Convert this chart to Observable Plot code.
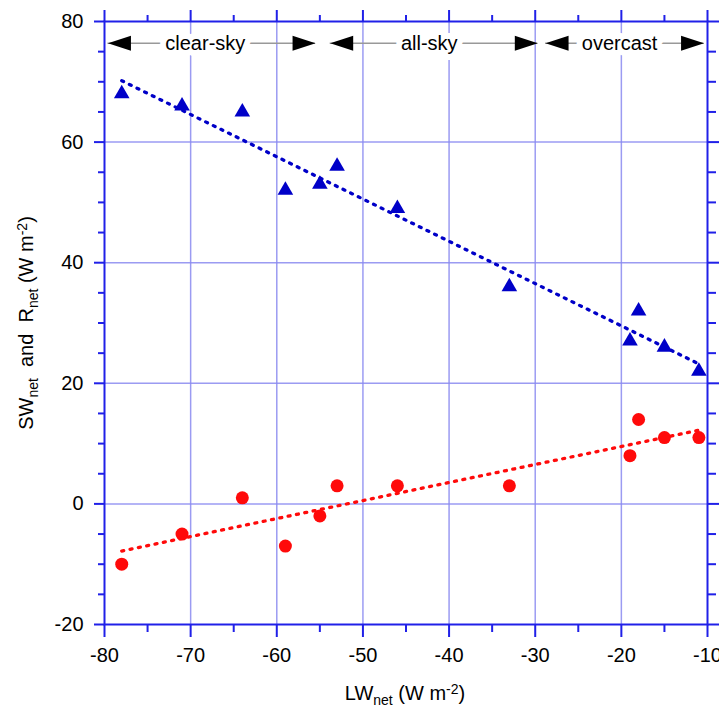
<!DOCTYPE html>
<html><head><meta charset="utf-8">
<script src="https://cdn.jsdelivr.net/npm/d3@7"></script>
<script src="https://cdn.jsdelivr.net/npm/@observablehq/plot@0.6"></script>
<style>
body{margin:0;background:#fff;}
svg{font-family:"Liberation Sans",Arial,Helvetica,sans-serif;}
</style>
</head><body><div id="chart"></div>
<script>
// ---- data ----
const lwNet = [-78, -71, -64, -59, -55, -53, -46, -33, -19, -18, -15, -11];
const swNet = [68, 66, 65, 52, 53, 56, 49, 36, 27, 32, 26, 22];
const rNet  = [-10, -5, 1, -7, -2, 3, 3, 3, 8, 14, 11, 11];

const regionLabels = ["clear-sky", "all-sky", "overcast"];
const regionStart  = [-79.6, -53.8, -28.8];
const regionEnd    = [-55.5, -29.7, -10.4];
const regionTextX  = [-68.3, -42.3, -20.2];
const regionY = 76.4;

const xMajor = [-80, -70, -60, -50, -40, -30, -20, -10];
const xMinor = [-75, -65, -55, -45, -35, -25, -15];
const yMajor = [-20, 0, 20, 40, 60, 80];
const yMinor = [-15, -10, -5, 5, 10, 15, 25, 30, 35, 45, 50, 55, 65, 70, 75];
const xGrid = [-70, -60, -50, -40, -30, -20];
const yGrid = [0, 20, 40, 60];

// ---- tables ----
const swData = lwNet.map((x, i) => ({x, y: swNet[i]}));
const rData  = lwNet.map((x, i) => ({x, y: rNet[i]}));
const regions = regionLabels.map((label, i) => ({label, x1: regionStart[i], x2: regionEnd[i], tx: regionTextX[i], y: regionY}));

const axisBlue = "#2020e8";
const gridBlue = "#8a8af0";
const triBlue = "#0000c8";
const dotRed = "#ff0a0a";

const headLeft = {draw(ctx) { ctx.moveTo(0, 0); ctx.lineTo(23, -7.5); ctx.lineTo(23, 7.5); ctx.closePath(); }};
const headRight = {draw(ctx) { ctx.moveTo(0, 0); ctx.lineTo(-23, -7.5); ctx.lineTo(-23, 7.5); ctx.closePath(); }};

const fmt = d => String(d);
const blank = () => "";

const chart = Plot.plot({
  width: 719, height: 707,
  marginLeft: 104, marginRight: 12, marginTop: 21, marginBottom: 83,
  x: {domain: [-80, -10], axis: null},
  y: {domain: [-20, 80], axis: null},
  style: {background: "white", fontFamily: '"Liberation Sans",Arial,Helvetica,sans-serif'},
  marks: [
    Plot.gridX({ticks: xGrid, stroke: gridBlue, strokeOpacity: 0.85, strokeWidth: 1.5}),
    Plot.gridY({ticks: yGrid, stroke: gridBlue, strokeOpacity: 0.85, strokeWidth: 1.5}),
    Plot.ruleY(regions, {x1: "x1", x2: "x2", y: "y", stroke: "#999", strokeWidth: 1.5}),
    Plot.text(regions, {x: "tx", y: "y", text: "label", fontSize: 20, fill: "black", stroke: "white", strokeWidth: 12}),
    Plot.dot(regions, {x: "x1", y: "y", symbol: headLeft, fill: "black", r: 5}),
    Plot.dot(regions, {x: "x2", y: "y", symbol: headRight, fill: "black", r: 5}),
    Plot.dot(swData, {x: "x", y: "y", symbol: "triangle", r: 5.8, fill: triBlue}),
    Plot.dot(rData, {x: "x", y: "y", r: 6.5, fill: dotRed}),
    Plot.linearRegressionY(swData, {x: "x", y: "y", stroke: triBlue, strokeWidth: 3.3, strokeDasharray: "2,6.5", strokeLinecap: "round", ci: 0}),
    Plot.linearRegressionY(rData, {x: "x", y: "y", stroke: dotRed, strokeWidth: 3.3, strokeDasharray: "2,6.5", strokeLinecap: "round", ci: 0}),
    Plot.frame({stroke: axisBlue, strokeWidth: 2}),
    Plot.axisX({anchor: "bottom", ticks: xMajor, tickSize: 13, tickPadding: 10, tickFormat: fmt, fontSize: 20, stroke: axisBlue, strokeWidth: 2, fill: "black", label: null}),
    Plot.axisX({anchor: "bottom", ticks: xMinor, tickSize: 8, tickFormat: blank, stroke: axisBlue, strokeWidth: 2, label: null}),
    Plot.axisX({anchor: "top", ticks: xMajor, tickSize: 12, tickFormat: blank, stroke: axisBlue, strokeWidth: 2, label: null}),
    Plot.axisX({anchor: "top", ticks: xMinor, tickSize: 7, tickFormat: blank, stroke: axisBlue, strokeWidth: 2, label: null}),
    Plot.axisY({anchor: "left", ticks: yMajor, tickSize: 10, tickPadding: 11, tickFormat: fmt, fontSize: 20, stroke: axisBlue, strokeWidth: 2, fill: "black", label: null}),
    Plot.axisY({anchor: "left", ticks: yMinor, tickSize: 6, tickFormat: blank, stroke: axisBlue, strokeWidth: 2, label: null}),
    Plot.axisY({anchor: "right", ticks: yMajor, tickSize: 12, tickFormat: blank, stroke: axisBlue, strokeWidth: 2, label: null}),
    Plot.axisY({anchor: "right", ticks: yMinor, tickSize: 8, tickFormat: blank, stroke: axisBlue, strokeWidth: 2, label: null})
  ]
});
document.getElementById("chart").appendChild(chart);

// axis titles with subscripts / superscripts
const svg = d3.select(chart);
const xt = svg.append("text").attr("x", 405).attr("y", 700).attr("text-anchor", "middle")
  .attr("font-size", 20).attr("fill", "black").style("white-space", "pre");
xt.append("tspan").text("LW");
xt.append("tspan").attr("font-size", 14).attr("dy", 5).text("net");
xt.append("tspan").attr("dy", -5).text(" (W m");
xt.append("tspan").attr("font-size", 14).attr("dy", -6).text("-2");
xt.append("tspan").attr("dy", 6).text(")");

const yt = svg.append("text").attr("transform", "translate(33,323) rotate(-90)").attr("text-anchor", "middle")
  .attr("font-size", 20).attr("fill", "black").style("white-space", "pre");
yt.append("tspan").text("SW");
yt.append("tspan").attr("font-size", 14).attr("dy", 5).text("net");
yt.append("tspan").attr("dy", -5).text("  and  R");
yt.append("tspan").attr("font-size", 14).attr("dy", 5).text("net");
yt.append("tspan").attr("dy", -5).text(" (W m");
yt.append("tspan").attr("font-size", 14).attr("dy", -6).text("-2");
yt.append("tspan").attr("dy", 6).text(")");
</script>
</body></html>
